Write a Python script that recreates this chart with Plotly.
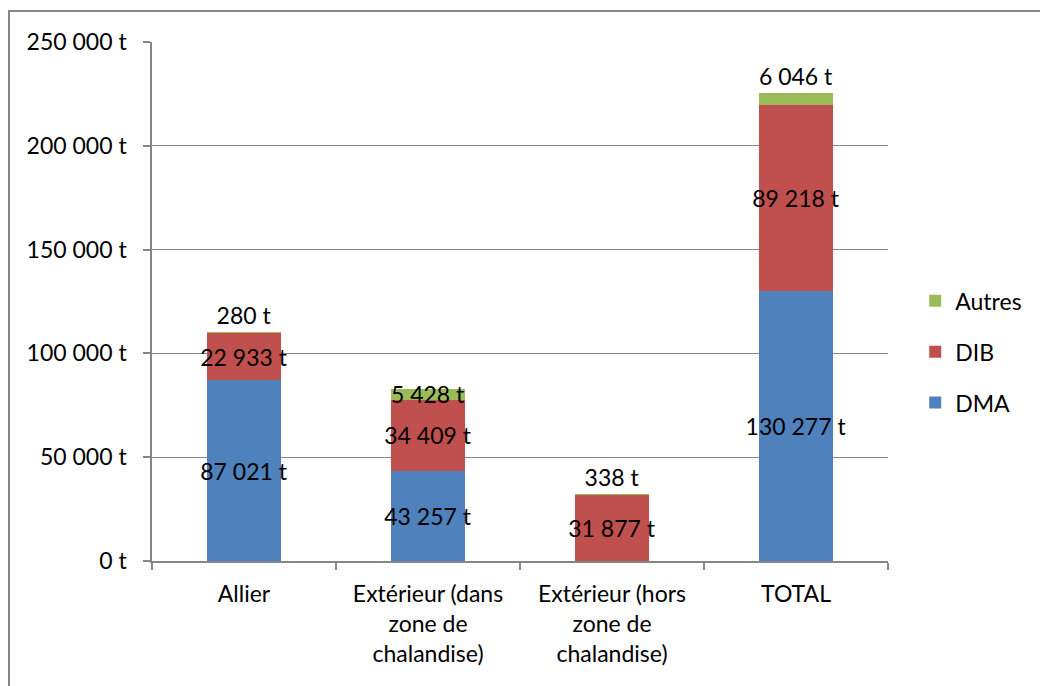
import plotly.graph_objects as go

categories = ["Allier", "Extérieur (dans<br>zone de<br>chalandise)", "Extérieur (hors<br>zone de<br>chalandise)", "TOTAL"]
dma = [87021, 43257, 0, 130277]
dib = [22933, 34409, 31877, 89218]
autres = [280, 5428, 338, 6046]
autres_textpos = ["outside", "inside", "outside", "outside"]
y_ticks = [0, 50000, 100000, 150000, 200000, 250000]


def fmt(v):
    return f"{v:,}".replace(",", " ") + " t"


def lbl(v):
    return "" if v == 0 else fmt(v)


FONT = "Lato"
FS = 23
GRAY = "#868686"

fig = go.Figure()
common = dict(constraintext="none", cliponaxis=False, insidetextanchor="middle",
              textangle=0,
              textfont=dict(color="black", size=FS, family=FONT),
              outsidetextfont=dict(color="black", size=FS, family=FONT),
              insidetextfont=dict(color="black", size=FS, family=FONT),
              hoverinfo="skip")
fig.add_trace(go.Bar(name="DMA", x=categories, y=dma, text=[lbl(v) for v in dma],
                     textposition="inside", marker=dict(color="#4F81BD", line=dict(width=0)),
                     legendgroup="a", legendrank=3, **common))
fig.add_trace(go.Bar(name="DIB", x=categories, y=dib, text=[lbl(v) for v in dib],
                     textposition="inside", marker=dict(color="#C0504D", line=dict(width=0)),
                     legendgroup="b", legendrank=2, **common))
fig.add_trace(go.Bar(name="Autres", x=categories, y=autres, text=[lbl(v) for v in autres],
                     textposition=autres_textpos, marker=dict(color="#9BBB59", line=dict(width=0)),
                     legendgroup="c", legendrank=1, **common))

fig.update_layout(
    width=1040, height=686,
    margin=dict(l=152, r=152, t=42, b=125, autoexpand=False),
    barmode="stack", bargap=0.6,
    paper_bgcolor="white", plot_bgcolor="white",
    font=dict(family=FONT, size=FS, color="black"),
    showlegend=True,
    legend=dict(x=1.037, y=0.403, xanchor="left", yanchor="middle",
                traceorder="grouped", tracegroupgap=18,
                font=dict(size=FS, family=FONT), itemwidth=30),
    xaxis=dict(showline=True, linecolor=GRAY, linewidth=1.5, ticks="outside",
               tickson="boundaries", ticklen=7, tickcolor=GRAY, tickwidth=1.5,
               showgrid=False, ticklabelstandoff=12, tickfont=dict(size=FS, family=FONT)),
    yaxis=dict(range=[0, 250000], tickvals=y_ticks, ticktext=[fmt(v) for v in y_ticks],
               showline=True, linecolor=GRAY, linewidth=1.5, ticks="outside",
               ticklen=7, tickcolor=GRAY, tickwidth=1.5, showgrid=True,
               gridcolor=GRAY, gridwidth=1.2, zeroline=False,
               ticklabelstandoff=12, tickfont=dict(size=FS, family=FONT)),
    shapes=[dict(type="rect", xref="paper", yref="paper",
                 x0=(9 - 152) / 736, x1=(1050 - 152) / 736,
                 y0=(561 - 700) / 519, y1=1 + (42 - 11) / 519,
                 line=dict(color=GRAY, width=2), fillcolor="rgba(0,0,0,0)", layer="below")],
)

fig.write_html("out.html")
